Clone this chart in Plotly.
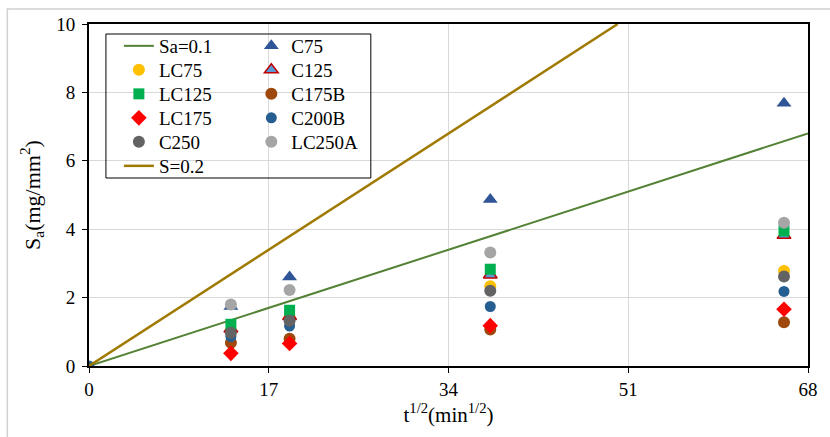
import plotly.graph_objects as go

x_pts = [0, 13.42, 18.97, 37.95, 65.73]
C75 = [None, 1.74, 2.6, 4.87, 7.68]
LC75 = [None, 1.02, 1.42, 2.33, 2.78]
C125 = [None, 1.08, 1.45, 2.66, 3.82]
LC125 = [None, 1.22, 1.63, 2.83, 3.95]
C175B = [None, 0.68, 0.8, 1.07, 1.28]
LC175 = [None, 0.37, 0.66, 1.18, 1.66]
C200B = [0, 0.86, 1.17, 1.74, 2.18]
C250 = [None, 0.97, 1.32, 2.2, 2.62]
LC250A = [None, 1.8, 2.22, 3.32, 4.19]
line1_x = [0, 68]
line1_y = [0, 6.8]
line2_x = [0, 50]
line2_y = [0, 10]
xticks = [0, 17, 34, 51, 68]
yticks = [0, 2, 4, 6, 8, 10]

FONT = "Times New Roman, Liberation Serif, serif"
W, H = 830, 437
L, R, T, B = 89, 19, 24, 71
pw, ph = W - L - R, H - T - B

def px2paper(px, py):
    return (px - L) / pw, (H - B - py) / ph

# legend slot layout (column, row) for each series, as in the reference legend
slots = {
    "Sa=0.1": (0, 0), "C75": (1, 0), "LC75": (0, 1), "C125": (1, 1),
    "LC125": (0, 2), "C175B": (1, 2), "LC175": (0, 3), "C200B": (1, 3),
    "C250": (0, 4), "LC250A": (1, 4), "S=0.2": (0, 5),
}
col_px = [119, 252]
row_px = [46, 70, 94, 118, 142, 166]

fig = go.Figure()
legends = {}

def legend_for(name):
    idx = len(legends) + 1
    key = "legend" if idx == 1 else f"legend{idx}"
    c, r = slots[name]
    lx, ly = px2paper(col_px[c], row_px[r])
    legends[key] = dict(x=lx, y=ly, xanchor="left", yanchor="middle",
                        bgcolor="rgba(0,0,0,0)", borderwidth=0,
                        font=dict(family=FONT, size=19, color="black"),
                        itemsizing="trace")
    return key

def marker_trace(name, y, symbol, color, size, line_color=None, line_width=0):
    fig.add_trace(go.Scatter(
        x=x_pts, y=y, mode="markers", name=name, legend=legend_for(name),
        marker=dict(symbol=symbol, color=color, size=size,
                    line=dict(color=line_color or color, width=line_width)),
    ))

fig.add_trace(go.Scatter(x=line1_x, y=line1_y, mode="lines", name="Sa=0.1",
                         line=dict(color="#548235", width=2), legend=legend_for("Sa=0.1")))
marker_trace("C75", C75, "triangle-up", "#2F5597", 13)
marker_trace("LC75", LC75, "circle", "#FFC000", 12)
marker_trace("C125", C125, "triangle-up", "#5B9BD5", 12, "#C00000", 1.5)
marker_trace("LC125", LC125, "square", "#00B050", 11)
marker_trace("C175B", C175B, "circle", "#9E480E", 12)
marker_trace("LC175", LC175, "diamond", "#FF0000", 12)
marker_trace("C200B", C200B, "circle", "#255E91", 11)
marker_trace("C250", C250, "circle", "#636363", 12)
marker_trace("LC250A", LC250A, "circle", "#A5A5A5", 12)
fig.add_trace(go.Scatter(x=line2_x, y=line2_y, mode="lines", name="S=0.2",
                         line=dict(color="#A07A00", width=2.5), legend=legend_for("S=0.2")))

lx0, ly1 = px2paper(106, 34)
lx1, ly0 = px2paper(372, 178)
ox0, oy1 = px2paper(7, 9)
ox1, oy0 = px2paper(840, 450)

fig.update_layout(
    width=W, height=H,
    margin=dict(l=L, r=R, t=T, b=B),
    paper_bgcolor="white", plot_bgcolor="white",
    font=dict(family=FONT, size=19, color="black"),
    xaxis=dict(range=[0, 68], tickvals=xticks, ticktext=[str(v) for v in xticks],
               showgrid=True, gridcolor="#D9D9D9", gridwidth=1,
               showline=True, linecolor="black", linewidth=2, mirror=True,
               ticks="outside", ticklen=5, tickcolor="black", zeroline=False,
               tickfont=dict(family=FONT, size=19), ticklabelstandoff=0,
               title=dict(text="t<sup>1/2</sup>(min<sup>1/2</sup>)", font=dict(family=FONT, size=21), standoff=6)),
    yaxis=dict(range=[0, 10], tickvals=yticks,
               showgrid=True, gridcolor="#D9D9D9", gridwidth=1,
               showline=True, linecolor="black", linewidth=2, mirror=True,
               ticks="outside", ticklen=5, tickcolor="black", zeroline=False,
               tickfont=dict(family=FONT, size=19), ticklabelstandoff=3,
               title=dict(text="S<sub>a</sub>(mg/mm<sup>2</sup>)", font=dict(family=FONT, size=22), standoff=10)),
    shapes=[
        dict(type="rect", xref="paper", yref="paper", x0=lx0, x1=lx1, y0=ly0, y1=ly1,
             line=dict(color="black", width=1), fillcolor="rgba(0,0,0,0)", layer="above"),
        dict(type="rect", xref="paper", yref="paper", x0=ox0, x1=ox1, y0=oy0, y1=oy1,
             line=dict(color="#D0D0D0", width=1.5), fillcolor="rgba(0,0,0,0)", layer="below"),
    ],
    showlegend=True,
    **legends,
)

fig.write_html("out.html")
